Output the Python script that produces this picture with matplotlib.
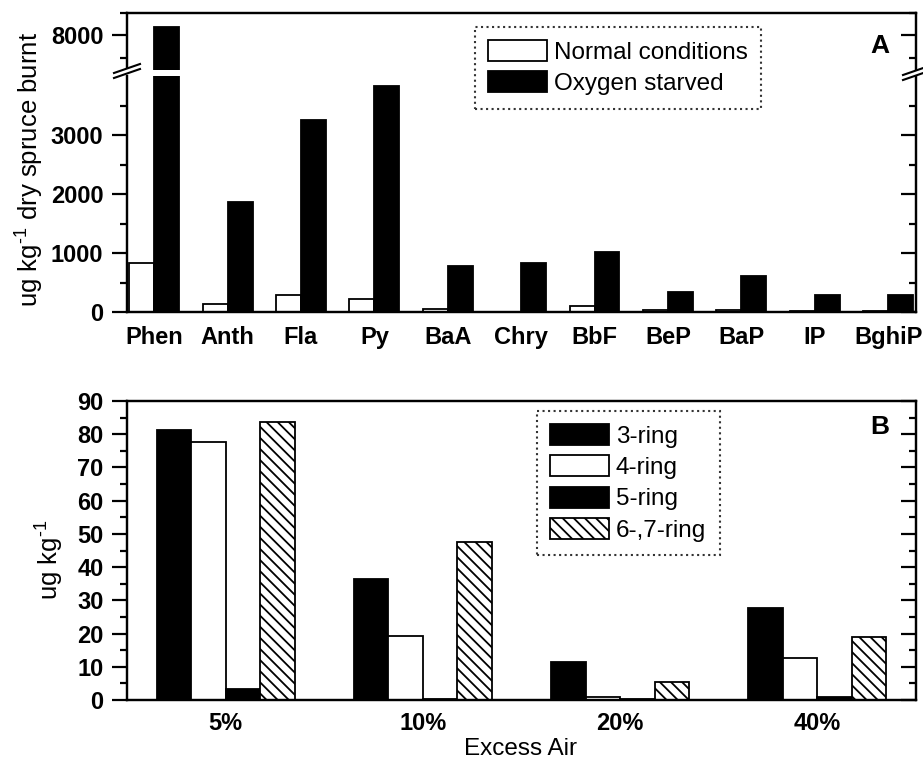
import numpy as np
import matplotlib
matplotlib.use("Agg")
import matplotlib.pyplot as plt
from matplotlib.lines import Line2D
from matplotlib.patches import Polygon

plt.rcParams['font.family'] = ['Liberation Sans', 'DejaVu Sans']
plt.rcParams['mathtext.fontset'] = 'custom'
plt.rcParams['mathtext.rm'] = 'Liberation Sans'
plt.rcParams['mathtext.it'] = 'Liberation Sans:italic'
plt.rcParams['hatch.linewidth'] = 1.3

# Panel A: PAH emissions per compound (ug/kg dry spruce burnt)
compounds = ['Phen', 'Anth', 'Fla', 'Py', 'BaA', 'Chry', 'BbF', 'BeP', 'BaP', 'IP', 'BghiP']
normal = [830, 130, 290, 220, 50, 5, 100, 30, 40, 20, 20]
starved = [8180, 1860, 3250, 3830, 780, 830, 1020, 340, 610, 280, 280]

# Panel B: emissions grouped by ring number vs excess air
excess_air = ['5%', '10%', '20%', '40%']
ring_labels = ['3-ring', '4-ring', '5-ring', '6-,7-ring']
ring_3 = [81.3, 36.4, 11.5, 27.7]
ring_4 = [77.7, 19.3, 1.0, 12.7]
ring_5 = [3.3, 0.3, 0.2, 1.0]
ring_67 = [83.7, 47.6, 5.5, 19.0]

W, H = 923, 768
TICK_FS = 17
LAB_FS = 17.5
UNIT = r'ug kg$^{\text{-}1}$'


def fig_rect(x0, y0, x1, y1):
    # pixel box (top-left origin) -> figure fraction rect
    return [x0 / W, 1 - y1 / H, (x1 - x0) / W, (y1 - y0) / H]


def style_axes(ax, major, minor, show_top=True, show_bottom=True):
    for s in ax.spines.values():
        s.set_linewidth(1.6)
    ax.spines['top'].set_visible(show_top)
    ax.spines['bottom'].set_visible(show_bottom)
    ax.set_yticks(major)
    ax.set_yticks(minor, minor=True)
    ax.tick_params(axis='y', which='major', direction='out', length=11, width=1.6,
                   labelsize=TICK_FS, pad=6)
    ax.tick_params(axis='y', which='minor', direction='out', length=5, width=1.6)
    ax.tick_params(axis='x', length=0, labelsize=TICK_FS)
    for lab in ax.get_yticklabels():
        lab.set_fontweight('bold')
    # inward ticks on the right side
    tw = ax.twinx()
    tw.set_ylim(ax.get_ylim())
    tw.set_yticks(major)
    tw.set_yticks(minor, minor=True)
    tw.tick_params(axis='y', which='major', direction='in', length=11, width=1.6, labelright=False)
    tw.tick_params(axis='y', which='minor', direction='in', length=5, width=1.6)
    for s in tw.spines.values():
        s.set_linewidth(1.6)
    tw.spines['top'].set_visible(show_top)
    tw.spines['bottom'].set_visible(show_bottom)
    return tw


def dotted_legend(leg):
    fr = leg.get_frame()
    fr.set_edgecolor('black')
    fr.set_linewidth(1.5)
    fr.set_linestyle(':')


fig = plt.figure(figsize=(W / 100, H / 100), dpi=100)

# ---- Panel A (broken y axis) ----
ax_hi = fig.add_axes(fig_rect(127, 13, 916, 70))
ax_lo = fig.add_axes(fig_rect(127, 76, 916, 312))

x = np.arange(len(compounds))
bw = 0.34
for ax in (ax_hi, ax_lo):
    ax.bar(x - bw / 2, normal, bw, color='white', edgecolor='black', linewidth=1.3,
           label='Normal conditions')
    ax.bar(x + bw / 2, starved, bw, color='black', edgecolor='black', linewidth=1.3,
           label='Oxygen starved')
    ax.set_xlim(-0.37, 10.38)

ax_hi.set_ylim(7230, 8500)
ax_lo.set_ylim(0, 4000)
style_axes(ax_hi, [8000], [7500, 8500], show_bottom=False)
style_axes(ax_lo, [0, 1000, 2000, 3000], [500, 1500, 2500, 3500], show_top=False)
ax_hi.set_xticks([])
ax_lo.set_xticks(x)
ax_lo.set_xticklabels(compounds, fontweight='bold')
ax_lo.tick_params(axis='x', pad=10)

# break marks on both spines
for xp in (127, 916):
    xs = np.array([xp - 13, xp + 13])
    y_a = np.array([78, 69]) + (2 if xp > 500 else 0)
    gap = Polygon([[xs[0] / W, 1 - y_a[0] / H], [xs[1] / W, 1 - y_a[1] / H],
                   [xs[1] / W, 1 - (y_a[1] - 5) / H], [xs[0] / W, 1 - (y_a[0] - 5) / H]],
                  closed=True, transform=fig.transFigure, facecolor='white', edgecolor='none',
                  zorder=10)
    fig.add_artist(gap)
    for off in (0, 5):
        fig.add_artist(Line2D(xs / W, 1 - (y_a - off) / H, transform=fig.transFigure,
                              color='black', linewidth=1.5, zorder=11))

fig.text(30 / W, 1 - 170 / H, UNIT + ' dry spruce burnt', rotation=90,
         ha='center', va='center', fontsize=18.5)
fig.text(880 / W, 1 - 46 / H, 'A', ha='center', va='center', fontsize=19, fontweight='bold')

h, l = ax_lo.get_legend_handles_labels()
leg_a = fig.legend(h, l, loc='upper left', bbox_to_anchor=(475 / W, 1 - 27 / H),
                   fontsize=LAB_FS, handlelength=2.4, handleheight=0.95, labelspacing=0.3,
                   handletextpad=0.3, borderpad=0.55, borderaxespad=0, fancybox=False)
dotted_legend(leg_a)

# ---- Panel B ----
ax_b = fig.add_axes(fig_rect(127, 401, 916, 700))
gx = np.arange(len(excess_air))
rw = 0.175
series = [ring_3, ring_4, ring_5, ring_67]
fills = ['black', 'white', 'black', 'white']
hatches = [None, None, None, '\\\\\\']
for i, (vals, fc, ht, lab) in enumerate(zip(series, fills, hatches, ring_labels)):
    ax_b.bar(gx + (i - 1.5) * rw, vals, rw, color=fc, edgecolor='black', linewidth=1.3,
             hatch=ht, label=lab)
ax_b.set_xlim(-0.5, 3.5)
ax_b.set_ylim(0, 90)
style_axes(ax_b, np.arange(0, 91, 10), np.arange(5, 90, 10))
ax_b.set_xticks(gx)
ax_b.set_xticklabels(excess_air, fontweight='bold')
ax_b.tick_params(axis='x', pad=9)
fig.text(521 / W, 1 - 749 / H, 'Excess Air', ha='center', va='center', fontsize=LAB_FS)
fig.text(50 / W, 1 - 560 / H, UNIT, rotation=90, ha='center', va='center', fontsize=18.5)
fig.text(880 / W, 1 - 427 / H, 'B', ha='center', va='center', fontsize=19, fontweight='bold')

leg_b = ax_b.legend(loc='upper left', bbox_to_anchor=(537 / W, 1 - 411 / H),
                    bbox_transform=fig.transFigure, fontsize=LAB_FS, handlelength=2.4,
                    handleheight=0.95, labelspacing=0.3, handletextpad=0.3, borderpad=0.55,
                    borderaxespad=0, fancybox=False)
dotted_legend(leg_b)

fig.savefig('out.png', dpi=100)
